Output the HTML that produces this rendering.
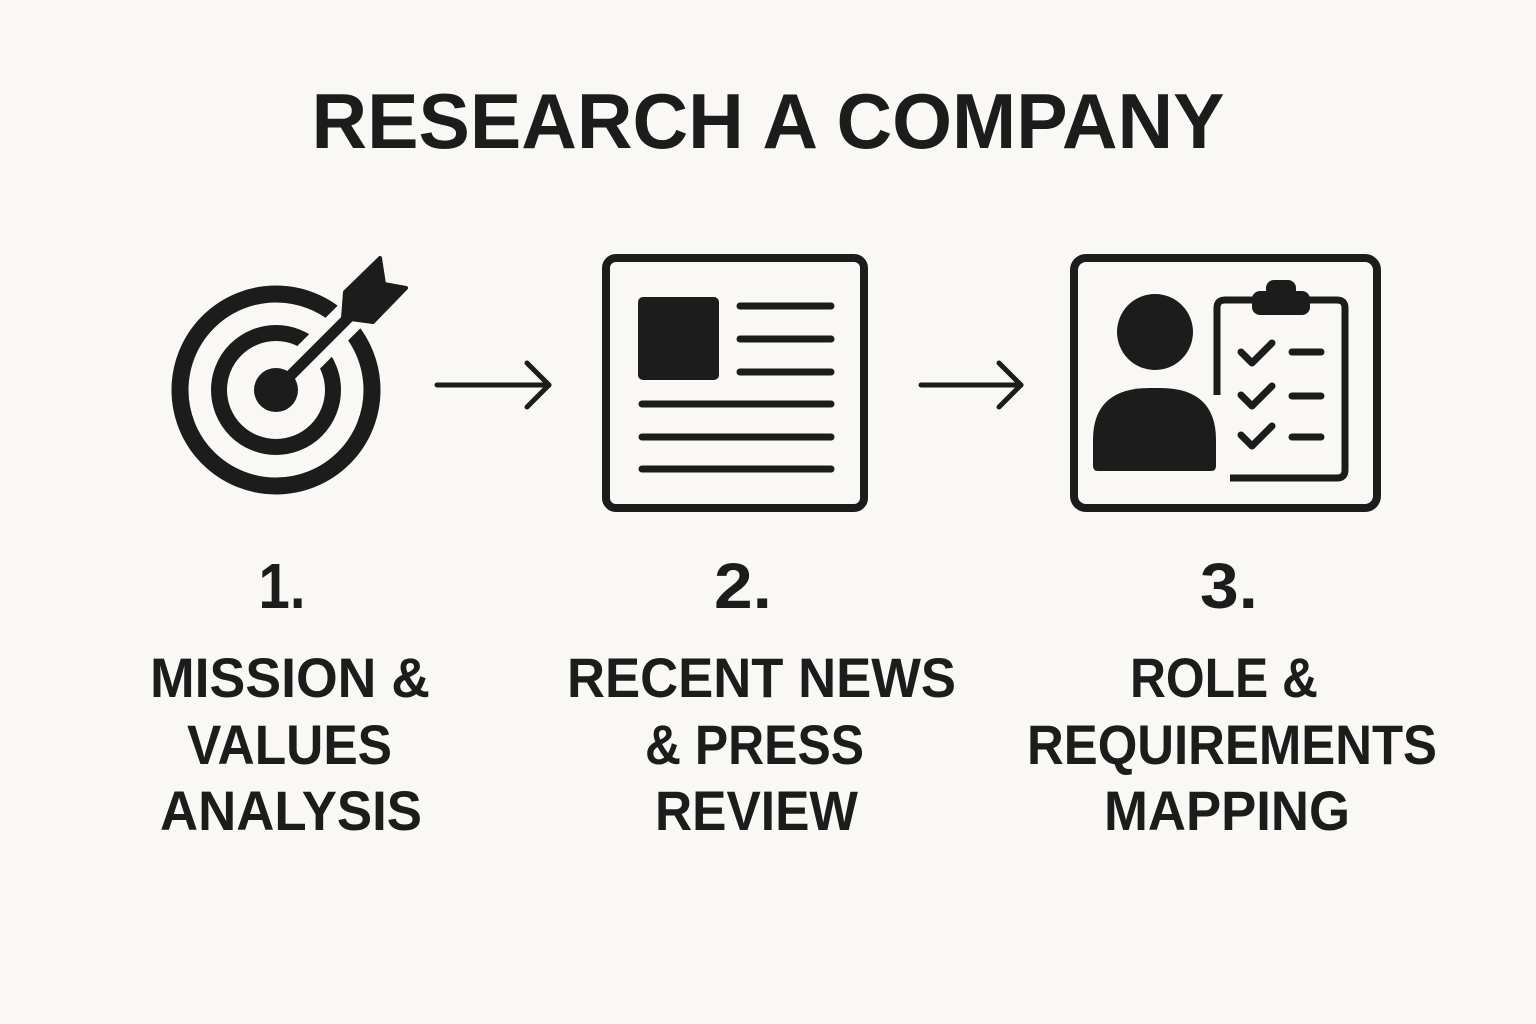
<!DOCTYPE html>
<html><head><meta charset="utf-8"><style>
html,body{margin:0;padding:0;background:#f9f8f5;}
svg{display:block}
text{font-family:"Liberation Sans",sans-serif;font-weight:bold;fill:#1c1c1c}
</style></head><body>
<svg width="1536" height="1024" viewBox="0 0 1536 1024" xmlns="http://www.w3.org/2000/svg">
<rect width="1536" height="1024" fill="#f9f8f5"/>
<text x="768" y="148" font-size="78" text-anchor="middle" textLength="913" lengthAdjust="spacingAndGlyphs">RESEARCH A COMPANY</text>

<!-- target -->
<g fill="none" stroke="#1c1c1c">
<circle cx="276" cy="390" r="96" stroke-width="17"/>
<circle cx="276" cy="390" r="57" stroke-width="16"/>
</g>
<line x1="286" y1="380" x2="372" y2="294" stroke="#f9f8f5" stroke-width="32"/>
<circle cx="276" cy="390" r="22" fill="#1c1c1c"/>
<line x1="272" y1="394" x2="362" y2="304" stroke="#1c1c1c" stroke-width="11" stroke-linecap="round"/>
<polygon points="345,292 380,258 384,284 406,288 373,322 343,318" fill="#1c1c1c" stroke="#1c1c1c" stroke-width="4" stroke-linejoin="round"/>

<!-- arrows -->
<g stroke="#1c1c1c" stroke-width="5" fill="none" stroke-linecap="round" stroke-linejoin="round">
<line x1="437" y1="385" x2="549" y2="385"/><polyline points="527,363 549,385 527,407"/>
<line x1="921" y1="385" x2="1021" y2="385"/><polyline points="999,363 1021,385 999,407"/>
</g>

<!-- newspaper -->
<rect x="606" y="258" width="258" height="250" rx="10" fill="none" stroke="#1c1c1c" stroke-width="8"/>
<rect x="638" y="297" width="81" height="83" rx="5" fill="#1c1c1c"/>
<g stroke="#1c1c1c" stroke-width="7" stroke-linecap="round">
<line x1="740" y1="306" x2="831" y2="306"/>
<line x1="740" y1="339" x2="831" y2="339"/>
<line x1="740" y1="372" x2="831" y2="372"/>
<line x1="642" y1="404" x2="831" y2="404"/>
<line x1="642" y1="437" x2="831" y2="437"/>
<line x1="642" y1="469" x2="831" y2="469"/>
</g>

<!-- card -->
<rect x="1074" y="258" width="303" height="250" rx="12" fill="none" stroke="#1c1c1c" stroke-width="8"/>
<circle cx="1155" cy="332" r="38" fill="#1c1c1c"/>
<path d="M1093,466 L1093,440 Q1093,388 1150,388 L1160,388 Q1216,388 1216,440 L1216,466 Q1216,471 1211,471 L1098,471 Q1093,471 1093,466 Z" fill="#1c1c1c"/>
<path d="M1217,395 L1217,308 Q1217,300 1225,300 L1337,300 Q1345,300 1345,308 L1345,470 Q1345,478 1337,478 L1230,478" fill="none" stroke="#1c1c1c" stroke-width="7"/>
<rect x="1252" y="291" width="58" height="24" rx="8" fill="#1c1c1c"/>
<rect x="1266" y="280" width="30" height="20" rx="8" fill="#1c1c1c"/>
<g stroke="#1c1c1c" stroke-width="7" fill="none" stroke-linecap="round" stroke-linejoin="round">
<polyline points="1241,352 1252,363 1272,343"/>
<polyline points="1241,395 1252,406 1272,386"/>
<polyline points="1241,435 1252,446 1272,426"/>
<line x1="1292" y1="352" x2="1321" y2="352"/>
<line x1="1292" y1="396" x2="1321" y2="396"/>
<line x1="1292" y1="437" x2="1321" y2="437"/>
</g>

<!-- numbers -->
<text x="282" y="608" font-size="64" text-anchor="middle" textLength="47" lengthAdjust="spacingAndGlyphs">1.</text>
<text x="743" y="608" font-size="64" text-anchor="middle" textLength="58" lengthAdjust="spacingAndGlyphs">2.</text>
<text x="1229" y="608" font-size="64" text-anchor="middle" textLength="58" lengthAdjust="spacingAndGlyphs">3.</text>

<!-- labels -->
<g font-size="56">
<text x="150" y="697" textLength="280" lengthAdjust="spacingAndGlyphs">MISSION &amp;</text>
<text x="187" y="764" textLength="205" lengthAdjust="spacingAndGlyphs">VALUES</text>
<text x="160" y="830" textLength="262" lengthAdjust="spacingAndGlyphs">ANALYSIS</text>
<text x="567" y="697" textLength="389" lengthAdjust="spacingAndGlyphs">RECENT NEWS</text>
<text x="645" y="764" textLength="219" lengthAdjust="spacingAndGlyphs">&amp; PRESS</text>
<text x="655" y="830" textLength="203" lengthAdjust="spacingAndGlyphs">REVIEW</text>
<text x="1130" y="697" textLength="188" lengthAdjust="spacingAndGlyphs">ROLE &amp;</text>
<text x="1027" y="764" textLength="410" lengthAdjust="spacingAndGlyphs">REQUIREMENTS</text>
<text x="1104" y="830" textLength="246" lengthAdjust="spacingAndGlyphs">MAPPING</text>
</g>
</svg>
</body></html>
